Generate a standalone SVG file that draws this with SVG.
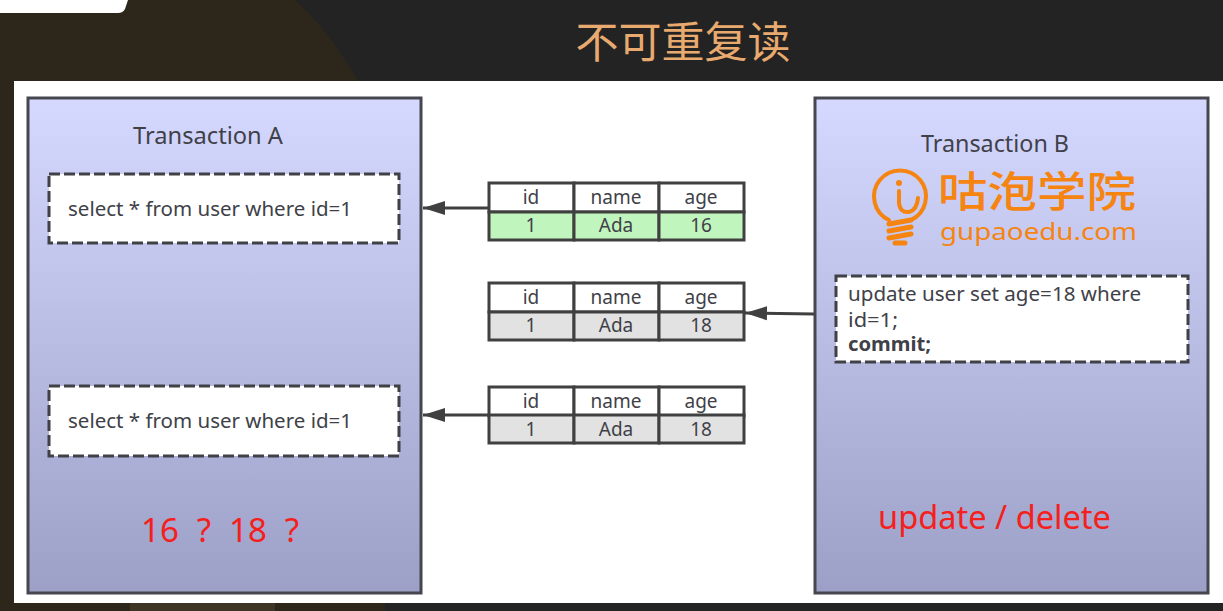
<svg xmlns="http://www.w3.org/2000/svg" width="1223" height="611" viewBox="0 0 1223 611">
<style>
text{font-family:"Noto Sans","Open Sans","Noto Sans CJK SC",sans-serif;fill:#404148}
.panel{fill:url(#pg);stroke:#46474e;stroke-width:3}
.dash{fill:#fff;stroke:#404146;stroke-width:3;stroke-dasharray:11 4}
.q{font-size:19px}
.t{font-size:23px}
.c{font-size:19px;text-anchor:middle}
.cell{stroke:#404040;stroke-width:3}
.red{fill:#f5201c;font-size:33px}
.conn{stroke:#404040;stroke-width:3;fill:none;marker-end:url(#ah)}
.logo{fill:#f58410}
.bulb{fill:none;stroke:#f58410;stroke-width:4;stroke-linecap:round}
</style>
<defs>
<linearGradient id="pg" x1="0" y1="0" x2="0" y2="1"><stop offset="0" stop-color="#d6d9ff"/><stop offset="1" stop-color="#9c9fc6"/></linearGradient>
<marker id="ah" markerUnits="userSpaceOnUse" markerWidth="24" markerHeight="16" refX="22" refY="8" orient="auto"><path d="M0 1L22 8L0 15Z" fill="#404040"/></marker>
<g id="tbl">
<rect class="cell" x="0" y="0" width="85" height="29" fill="#fff"/><rect class="cell" x="85" y="0" width="85" height="29" fill="#fff"/><rect class="cell" x="170" y="0" width="85" height="29" fill="#fff"/>
<text class="c" x="42" y="21">id</text><text class="c" x="127" y="21">name</text><text class="c" x="212" y="21">age</text>
</g>
</defs>
<rect width="1223" height="611" fill="#232323"/>
<path d="M0 0H295C335 35 365 90 385 135V611H0Z" fill="#2d261b"/>
<path d="M130 603H275V611H130Z" fill="#3f3524"/>
<path d="M0 0H128L125 9Q123 13 118 13H0Z" fill="#fff"/>
<text x="683" y="58" text-anchor="middle" style="font-size:43px;fill:#e8aa6f;font-family:'Noto Sans CJK SC',sans-serif">不可重复读</text>
<rect x="14" y="81" width="1209" height="522" fill="#fff"/>
<g id="transaction-a">
<rect class="panel" x="28" y="98" width="393" height="495"/>
<text class="t" x="133" y="144" textLength="150" lengthAdjust="spacingAndGlyphs">Transaction A</text>
<rect class="dash" x="49" y="174" width="350" height="69"/>
<text class="q" x="68" y="216" textLength="284" lengthAdjust="spacingAndGlyphs">select * from user where id=1</text>
<rect class="dash" x="49" y="386" width="350" height="70"/>
<text class="q" x="68" y="428" textLength="284" lengthAdjust="spacingAndGlyphs">select * from user where id=1</text>
<text class="red" x="141" y="542" xml:space="preserve" textLength="158">16  ?  18  ?</text>
</g>
<g id="transaction-b">
<rect class="panel" x="815" y="98" width="393" height="495"/>
<text class="t" x="921" y="152" textLength="148" lengthAdjust="spacingAndGlyphs">Transaction B</text>
<g id="logo">
<path class="bulb" d="M889 220A26 26 0 1 1 911 220" stroke-width="4.5"/>
<path class="bulb" d="M899 191V203Q900 213 909 212Q917 210 918 198" stroke-width="3.5"/>
<circle class="logo" cx="899" cy="183" r="3"/>
<path class="bulb" d="M889 224L911 220M889 231L911 227M889 238L911 234M895 243H905" style="stroke-width:5"/>
<text x="938" y="207" style="font-size:42px;font-weight:500;fill:#f58410;font-family:'Noto Sans CJK SC',sans-serif" textLength="198" lengthAdjust="spacingAndGlyphs">咕泡学院</text>
<text x="940" y="240" style="font-size:24px;fill:#f58410" textLength="197" lengthAdjust="spacingAndGlyphs">gupaoedu.com</text>
</g>
<rect class="dash" x="836" y="276" width="352" height="86"/>
<text class="q" x="848" y="301" textLength="293" lengthAdjust="spacingAndGlyphs">update user set age=18 where</text>
<text class="q" x="848" y="327" textLength="50" lengthAdjust="spacingAndGlyphs">id=1;</text>
<text class="q" x="848" y="351" font-weight="700" textLength="83" lengthAdjust="spacingAndGlyphs">commit;</text>
<text class="red" x="878" y="529" textLength="233" lengthAdjust="spacingAndGlyphs">update / delete</text>
</g>
<g id="row-1">
<use href="#tbl" x="489" y="183"/>
<g fill="#c0f5bd"><rect class="cell" x="489" y="212" width="85" height="28"/><rect class="cell" x="574" y="212" width="85" height="28"/><rect class="cell" x="659" y="212" width="85" height="28"/></g>
<text class="c" x="531" y="232">1</text><text class="c" x="616" y="232">Ada</text><text class="c" x="701" y="232">16</text>
</g>
<g id="row-2">
<use href="#tbl" x="489" y="283"/>
<g fill="#e2e2e2"><rect class="cell" x="489" y="312" width="85" height="28"/><rect class="cell" x="574" y="312" width="85" height="28"/><rect class="cell" x="659" y="312" width="85" height="28"/></g>
<text class="c" x="531" y="332">1</text><text class="c" x="616" y="332">Ada</text><text class="c" x="701" y="332">18</text>
</g>
<g id="row-3">
<use href="#tbl" x="489" y="387"/>
<g fill="#e2e2e2"><rect class="cell" x="489" y="415" width="85" height="28"/><rect class="cell" x="574" y="415" width="85" height="28"/><rect class="cell" x="659" y="415" width="85" height="28"/></g>
<text class="c" x="531" y="436">1</text><text class="c" x="616" y="436">Ada</text><text class="c" x="701" y="436">18</text>
</g>
<g id="connectors">
<line class="conn" x1="489" y1="208" x2="423" y2="208"/>
<line class="conn" x1="814" y1="314" x2="745" y2="313"/>
<line class="conn" x1="489" y1="415" x2="423" y2="415"/>
</g>
</svg>
